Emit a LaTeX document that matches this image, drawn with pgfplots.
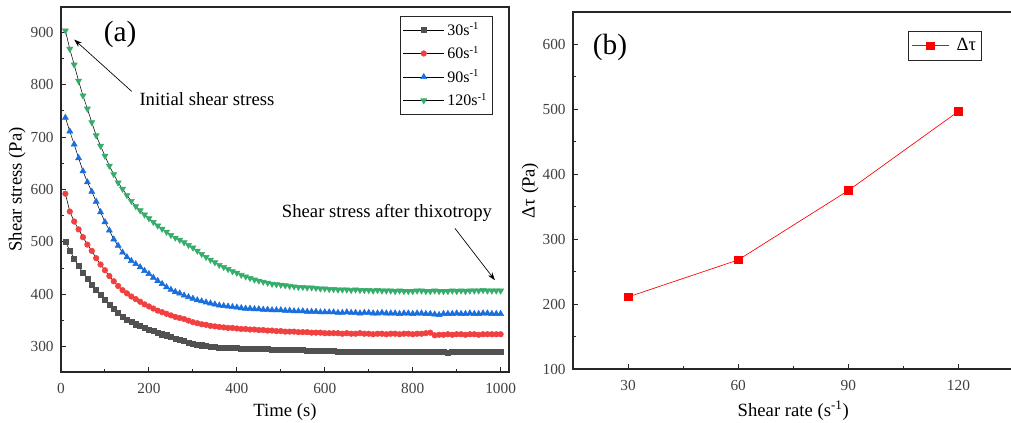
\documentclass[border=0pt]{standalone}
\usepackage{fontspec}
\setmainfont{Liberation Serif}
\usepackage{pgfplots}
\usepackage{pgfplotstable}
\pgfplotsset{compat=1.18}
\usetikzlibrary{arrows.meta}

\definecolor{cGrey}{HTML}{515151}
\definecolor{cRed}{HTML}{F14040}
\definecolor{cBlue}{HTML}{1A6FDF}
\definecolor{cGreen}{HTML}{37AD6B}
\definecolor{cPure}{HTML}{FF0000}
\definecolor{cFrame}{HTML}{262626}

% shear stress (Pa) vs time (s) at four shear rates
\pgfplotstableread{
t    s30 s60 s90 s120
10   500 592 737 903
20   484 558 711 868
30   468 539 686 838
40   454 524 660 807
50   441 509 635 779
60   430 495 614 754
70   419 483 596 728
80   409 469 577 703
90   399 457 557 683
100  390 446 538 664
110  380 435 522 645
120  372 425 505 629
130  365 416 493 613
140  358 408 480 601
150  352 402 471 589
160  347 396 464 578
170  343 391 458 568
180  340 386 452 560
190  336 381 445 552
200  333 377 439 545
210  330 373 432 538
220  327 369 426 531
230  324 366 420 525
240  322 363 414 519
250  319 360 409 513
260  316 357 405 508
270  313 355 402 504
280  311 353 398 499
290  308 350 395 494
300  306 347 392 489
310  304 345 389 483
320  303 343 387 477
330  302 342 385 471
340  301 340 383 466
350  300 339 381 461
360  299 338 379 456
370  299 337 378 452
380  298 336 377 448
390  298 336 376 444
400  298 335 375 441
410  297 334 374 437
420  297 334 373 434
430  297 333 373 431
440  296 333 372 428
450  296 332 372 426
460  296 332 371 424
470  296 331 371 422
480  295 331 370 420
490  295 330 370 419
500  295 330 370 418
510  295 329 369 417
520  294 329 369 416
530  294 329 368 415
540  294 328 368 414
550  294 328 368 414
560  293 328 367 413
570  293 327 367 413
580  293 327 367 412
590  292 327 366 411
600  292 326 366 411
610  292 326 366 410
620  292 326 366 410
630  291 326 365 409
640  291 325 365 409
650  290 326 366 409
660  291 325 365 408
670  291 325 365 409
680  290 326 364 408
690  291 325 365 408
700  291 325 365 408
710  290 324 364 407
720  291 325 364 408
730  291 325 365 407
740  290 324 364 407
750  291 325 364 407
760  290 325 364 406
770  291 324 363 407
780  291 325 364 406
790  291 325 364 406
800  290 324 363 406
810  290 325 364 407
820  291 325 364 407
830  291 326 363 406
840  290 327 363 406
850  290 322 362 407
860  291 323 361 406
870  290 323 363 406
880  289 324 363 406
890  290 323 363 407
900  291 324 364 406
910  290 324 363 407
920  290 323 363 406
930  291 324 364 407
940  291 324 363 407
950  290 323 363 407
960  291 324 364 408
970  290 324 364 407
980  290 324 363 407
990  291 324 363 407
1000 290 324 363 407
}\stress

\pgfplotsset{
  panel/.style={
    scale only axis, anchor=south west,
    axis line style={cFrame, line width=0.8pt},
    every tick/.style={cFrame, line width=0.8pt},
    tick align=inside, tick pos=left,
    major tick length=3.5pt, minor tick length=2pt,
    minor tick num=1,
    /pgf/number format/assume math mode=true,
    /pgf/number format/1000 sep={},
    tick label style={font=\fontsize{11.5}{13}\selectfont, text=black!75},
    xticklabel style={anchor=base, yshift=-16pt},
    yticklabel style={xshift=-2pt},
    label style={font=\fontsize{14}{16}\selectfont},
    legend cell align=left,
    legend style={draw=cFrame, line width=0.6pt, fill=white,
      font=\fontsize{12}{14}\selectfont, row sep=2.5pt,
      inner xsep=2pt, inner ysep=2.5pt},
  },
}

\begin{document}
\begin{tikzpicture}
\path[use as bounding box] (0pt,0pt) rectangle (758.25pt,316.5pt);

\begin{axis}[panel, at={(45.75pt,37.5pt)}, width=336pt, height=273.75pt,
  xmin=0, xmax=1019, ymin=252, ymax=948,
  xtick={0,200,...,1000}, ytick={300,400,...,900},
  xlabel={Time (s)}, ylabel={Shear stress (Pa)},
  xlabel style={at={(axis description cs:0.5,-0.1225)}, anchor=base},
  ylabel style={at={(axis description cs:-0.098,0.5)}, anchor=center},
  legend style={at={(rel axis cs:0.964,0.975)}, anchor=north east},
  legend image code/.code={\draw[mark repeat=2,mark phase=2]
    plot coordinates {(0pt,0pt) (15.5pt,0pt) (31pt,0pt)};},
]
\addplot[black, line width=0.4pt, mark=square*, mark size=1.9pt,
  mark options={draw=cGrey, fill=cGrey, solid}] table[x=t, y=s30] {\stress};
\addlegendentry{30s\textsuperscript{-1}}
\addplot[black, line width=0.4pt, mark=*, mark size=2.1pt,
  mark options={draw=cRed, fill=cRed, solid}] table[x=t, y=s60] {\stress};
\addlegendentry{60s\textsuperscript{-1}}
\addplot[black, line width=0.4pt, mark=triangle*, mark size=2.6pt,
  mark options={draw=cBlue, fill=cBlue, solid}] table[x=t, y=s90] {\stress};
\addlegendentry{90s\textsuperscript{-1}}
\addplot[black, line width=0.4pt, mark=triangle*, mark size=2.6pt,
  mark options={draw=cGreen, fill=cGreen, solid, rotate=180}] table[x=t, y=s120] {\stress};
\addlegendentry{120s\textsuperscript{-1}}

\node[font=\fontsize{22}{24}\selectfont] at (axis description cs:0.132,0.925) {(a)};
\draw[-{Stealth[length=6pt,width=4pt]}, line width=0.5pt] (axis cs:161,787) -- (axis cs:30,886);
\node[anchor=base west, inner sep=0pt, font=\fontsize{14}{16}\selectfont] at (axis cs:178,760) {Initial shear stress};
\node[anchor=base west, inner sep=0pt, font=\fontsize{14}{16}\selectfont] at (axis cs:502,547) {Shear stress after thixotropy};
\draw[-{Stealth[length=6pt,width=4pt]}, line width=0.5pt] (axis cs:896,526) -- (axis cs:987,427);
\end{axis}

\begin{axis}[panel, at={(429.75pt,39.75pt)}, width=330.4pt, height=267.75pt,
  xmin=15, xmax=135, ymin=100, ymax=650,
  xtick={30,60,90,120}, ytick={100,200,...,600},
  xlabel={Shear rate (s\textsuperscript{-1})}, ylabel={Δτ (Pa)},
  xlabel style={at={(axis description cs:0.5,-0.1336)}, anchor=base},
  ylabel style={at={(axis description cs:-0.0976,0.5)}, anchor=center},
  legend style={at={(rel axis cs:0.928,0.947)}, anchor=north east,
    font=\fontsize{14}{16}\selectfont, inner ysep=3.5pt},
  legend image code/.code={\draw[mark repeat=2,mark phase=2]
    plot coordinates {(0pt,0pt) (14pt,0pt) (28pt,0pt)};},
]
\addplot[cPure, line width=0.5pt, mark=square*, mark size=2.9pt, mark options={solid, fill=cPure}]
  coordinates {(30,211) (60,268) (90,375) (120,497)};
\addlegendentry{\ Δτ}
\node[font=\fontsize{22}{24}\selectfont] at (axis description cs:0.084,0.902) {(b)};
\end{axis}
\end{tikzpicture}
\end{document}
